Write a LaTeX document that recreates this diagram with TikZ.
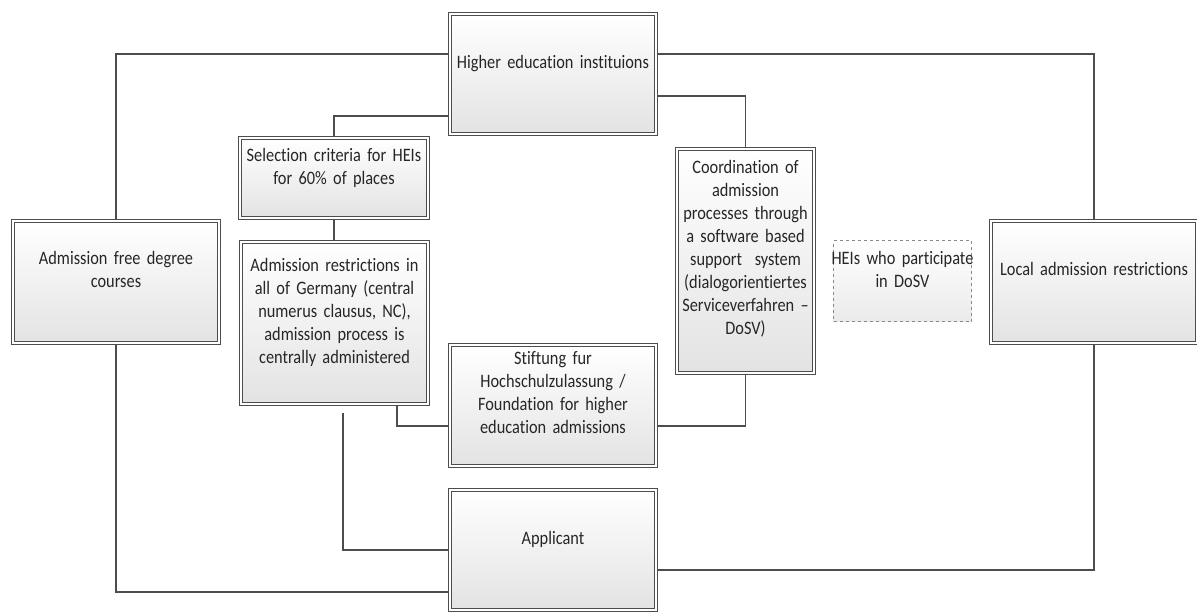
\documentclass[tikz,border=0pt]{standalone}
\usepackage{fontspec}
\setmainfont{Carlito}[FakeStretch=0.86, Ligatures=NoCommon]
\usetikzlibrary{backgrounds}
\definecolor{linegray}{HTML}{4D4D4D}
\definecolor{textgray}{HTML}{262626}
\definecolor{dashgray}{HTML}{8A8A8A}
\begin{document}
\begin{tikzpicture}[x=1pt,y=-1pt,
  dbox/.style={draw=linegray, line width=1.1pt, double=white, double distance=2.2pt,
    top color=white, bottom color=black!11, inner sep=0pt, minimum width=#1},
  dashbox/.style={draw=dashgray, line width=0.9pt, dashed, dash pattern=on 3pt off 3pt,
    top color=white, bottom color=black!8, inner sep=0pt},
  lbl/.style={anchor=base, inner sep=0pt, align=center, text width=#1, text=textgray,
    font=\fontsize{19}{23}\selectfont},
  conn/.style={draw=linegray, line width=1.2pt}
]
\useasboundingbox (0,0) rectangle (1197,611);

% boxes
\node[dbox=205.6pt, minimum height=119.6pt] (hei) at (553,74) {};
\node[dbox=205.6pt, minimum height=121.6pt] (admfree) at (116,282) {};
\node[dbox=187.6pt, minimum height=79.6pt] (sel) at (334,178) {};
\node[dbox=186.6pt, minimum height=161.6pt] (restr) at (334.5,323) {};
\node[dbox=205.6pt, minimum height=120.6pt] (stift) at (553,405.5) {};
\node[dbox=205.6pt, minimum height=119.6pt] (appl) at (553,550) {};
\node[dbox=136.6pt, minimum height=223.6pt] (coord) at (745.5,261) {};
\node[dashbox, minimum width=138pt, minimum height=81pt] (dosv) at (902.5,281) {};
\node[dbox=205.6pt, minimum height=121.6pt] (local) at (1094,282) {};

% texts
\node[lbl=200pt] (hei-t) at (553,68) {Higher education instituions};
\node[lbl=200pt] (admfree-t) at (116,264) {Admission free degree\\courses};
\node[lbl=185pt] (sel-t) at (334,161) {Selection criteria for HEIs\\for 60\% of places};
\node[lbl=185pt] (restr-t) at (334.5,271) {Admission restrictions in\\all of Germany (central\\numerus clausus, NC),\\admission process is\\centrally administered};
\node[lbl=200pt] (stift-t) at (553,364) {Stiftung fur\\Hochschulzulassung /\\Foundation for higher\\education admissions};
\node[lbl=200pt] (appl-t) at (553,544) {Applicant};
\node[lbl=140pt] (coord-t) at (745.5,173) {Coordination of\\admission\\processes through\\a software based\\support\ \ system\\(dialogorientiertes\\Serviceverfahren --\\DoSV)};
\node[lbl=170pt] (dosv-t) at (902.5,264) {HEIs who participate\\in DoSV};
\node[lbl=200pt] (local-t) at (1094,275) {Local admission restrictions};

% connectors
\begin{scope}[on background layer]
\fill[white] (0,0) rectangle (1197,611);
\coordinate (free) at (343,413);
\draw[conn] (hei.west |- 0,54) -| (admfree.north);
\draw[conn] (hei.west |- 0,116) -| (sel.north);
\draw[conn] (hei.east |- 0,54) -| (local.north);
\draw[conn] (hei.east |- 0,96) -| (coord.north);
\draw[conn] (sel.south) -- (sel.south |- restr.north);
\draw[conn] (restr.south -| 397,0) |- (stift.west |- 0,426);
\draw[conn] (coord.south) |- (stift.east |- 0,426);
\draw[conn] (free) |- (appl.west |- 0,550);
\draw[conn] (admfree.south) |- (appl.west |- 0,592);
\draw[conn] (local.south) |- (appl.east |- 0,570);
\end{scope}
\end{tikzpicture}
\end{document}
